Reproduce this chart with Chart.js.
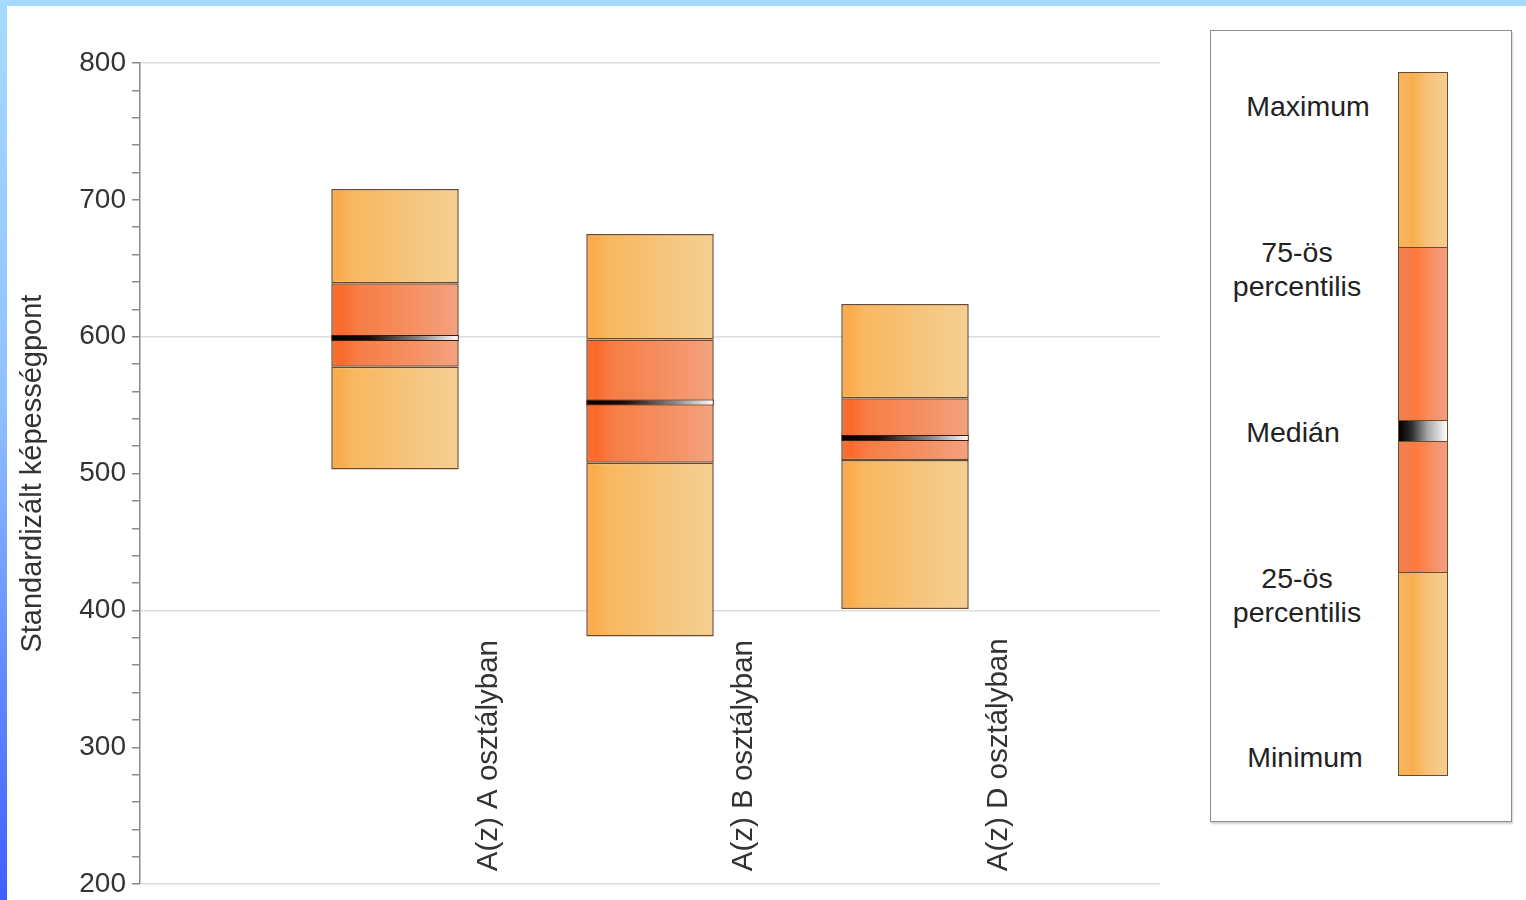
<!DOCTYPE html>
<html>
<head>
<meta charset="utf-8">
<script src="https://cdn.jsdelivr.net/npm/chart.js@4.4.1/dist/chart.umd.min.js"></script>
<style>
  html, body { margin: 0; padding: 0; overflow: hidden; }
  body {
    width: 1526px; height: 900px; position: relative;
    background: linear-gradient(180deg, #a6dbff 0%, #8fc0ff 45%, #3f5eff 100%);
    font-family: 'Liberation Sans', Arial, sans-serif;
  }
  #page { position: absolute; left: 7px; top: 6px; right: 0; bottom: 0; background: #fff; }
  #wrap { position: absolute; left: 0; top: 0; width: 1526px; height: 900px; }
  #legendBox {
    position: absolute; left: 1210px; top: 30px; width: 302px; height: 792px;
    box-sizing: border-box; border: 1.5px solid #8c8c8c; background: #fff;
    box-shadow: 1px 2px 2px #d0d0d0;
  }
  .seg { position: absolute; left: 1398px; width: 50px; box-sizing: border-box; border: 1.5px solid #6b4a2e; }
  .outer { background: linear-gradient(90deg, #f5b565 0%, #f9ae4e 30%, #f6c27b 60%, #f5cc90 100%); }
  .inner { background: linear-gradient(90deg, #ef8052 0%, #fd7b3b 35%, #f5936c 75%, #ef9f82 100%); }
  .med { background: linear-gradient(90deg, #000 0%, #2a2a2a 25%, #a8a8a8 60%, #fff 100%); }
  .lbl {
    position: absolute; transform: translate(-50%, -50%); white-space: nowrap;
    font-size: 28.5px; color: #222; text-align: center; line-height: 34px;
  }
</style>
</head>
<body>
<div id="page"></div>
<div id="legendBox"></div>
<div class="seg outer" style="top:72px;height:176px"></div>
<div class="seg inner" style="top:247px;height:174px"></div>
<div class="seg med" style="top:420px;height:22px"></div>
<div class="seg inner" style="top:441px;height:132px"></div>
<div class="seg outer" style="top:572px;height:204px"></div>
<div class="lbl" style="left:1308px;top:106px">Maximum</div>
<div class="lbl" style="left:1297px;top:269px">75-ös<br>percentilis</div>
<div class="lbl" style="left:1293px;top:432px">Medián</div>
<div class="lbl" style="left:1297px;top:595px">25-ös<br>percentilis</div>
<div class="lbl" style="left:1305px;top:757px">Minimum</div>
<div id="wrap"><canvas id="boxes"></canvas></div>
<script>
// ------------------------------------------- data
const classes = ['A(z) A osztályban', 'A(z) B osztályban', 'A(z) D osztályban'];
const minimum = [503, 381, 401];
const p25     = [578, 508, 510];
const median  = [599, 552, 526];
const p75     = [639, 598, 555];
const maximum = [708, 675, 624];

const yTicks = [200, 300, 400, 500, 600, 700, 800];

// one empty slot on each side so the boxes sit on the inner gridpoints
const labels = [''].concat(classes, ['']);
function pad(arr) { return [null].concat(arr, [null]); }
function range(lo, hi) { return classes.map((c, i) => [lo[i], hi[i]]); }

const barPct = 0.5;
const outerStops = [[0, '#f6ab55'], [0.08, '#fbad4c'], [0.16, '#f8b75e'], [0.6, '#f6c47c'], [1, '#f5cf92']];
const innerStops = [[0, '#f77037'], [0.08, '#fb6a2b'], [0.2, '#f77d45'], [0.6, '#f58e60'], [1, '#f3a27f']];
const medStops   = [[0, '#000000'], [0.3, '#1a0a05'], [0.7, '#8a8a8a'], [1, '#ffffff']];

function barGradient(stops) {
  return function (c) {
    const chart = c.chart;
    const x = chart.scales.x;
    if (!chart.chartArea || !x || c.dataIndex === undefined) return stops[2][1];
    const step = x.getPixelForValue(1) - x.getPixelForValue(0);
    const mid = x.getPixelForValue(c.dataIndex);
    const w = step * barPct;
    if (!isFinite(mid) || !isFinite(w)) return stops[2][1];
    const g = chart.ctx.createLinearGradient(mid - w / 2, 0, mid + w / 2, 0);
    stops.forEach(s => g.addColorStop(s[0], s[1]));
    return g;
  };
}

const common = {
  grouped: false,
  borderColor: '#6b4a2e',
  borderWidth: 1.5,
  borderSkipped: false,
  categoryPercentage: 1,
  barPercentage: barPct
};

const dataBoxes = {
  labels: labels,
  datasets: [
    Object.assign({ label: 'Medián', data: pad(median.map(m => [m - 2.2, m + 2.2])),
      backgroundColor: barGradient(medStops) }, common, { borderColor: '#3a1a08', borderWidth: 1 }),
    Object.assign({ label: '75-ös percentilis - Maximum', data: pad(range(p75, maximum)), backgroundColor: barGradient(outerStops) }, common),
    Object.assign({ label: '25-ös - 75-ös percentilis', data: pad(range(p25, p75)), backgroundColor: barGradient(innerStops) }, common),
    Object.assign({ label: 'Minimum - 25-ös percentilis', data: pad(range(minimum, p25)), backgroundColor: barGradient(outerStops) }, common)
  ]
};

// rotated class names inside the plot, right of each box
const classLabels = {
  id: 'classLabels',
  afterDatasetsDraw(chart) {
    const ctx = chart.ctx;
    const x = chart.scales.x;
    ctx.save();
    ctx.font = '29.5px "Liberation Sans", Arial, sans-serif';
    ctx.fillStyle = '#333';
    ctx.textAlign = 'left';
    ctx.textBaseline = 'middle';
    classes.forEach((c, i) => {
      const px = x.getPixelForValue(i + 1.37);
      ctx.save();
      ctx.translate(px, chart.chartArea.bottom - 13);
      ctx.rotate(-Math.PI / 2);
      ctx.fillText(c, 0, 0);
      ctx.restore();
    });
    ctx.restore();
  }
};

const configBoxes = {
  type: 'bar',
  data: dataBoxes,
  options: {
    responsive: true,
    maintainAspectRatio: false,
    animation: false,
    layout: { padding: { left: 12, right: 366, top: 63, bottom: 12 } },
    plugins: { legend: { display: false }, tooltip: { enabled: false } },
    scales: {
      x: { display: false, offset: false },
      y: {
        min: 200,
        max: 800,
        afterFit(scale) { scale.width = 128; },
        ticks: {
          stepSize: 20,
          autoSkip: false,
          padding: 6,
          color: '#333',
          font: { family: '"Liberation Sans", Arial, sans-serif', size: 28, lineHeight: 0.7 },
          callback: v => (yTicks.includes(v) ? v : '')
        },
        grid: {
          color: c => (c.tick && c.tick.value % 200 === 0 ? '#dedede' : 'rgba(0,0,0,0)'),
          lineWidth: 1.5,
          tickColor: '#8a8a8a',
          tickLength: 8
        },
        border: { display: true, color: '#8a8a8a', width: 1.5 },
        title: {
          display: true,
          text: 'Standardizált képességpont',
          color: '#333',
          font: { family: '"Liberation Sans", Arial, sans-serif', size: 29 }
        }
      }
    }
  },
  plugins: [classLabels]
};

var chartBoxes = new Chart(document.getElementById('boxes'), configBoxes);
</script>
</body>
</html>
